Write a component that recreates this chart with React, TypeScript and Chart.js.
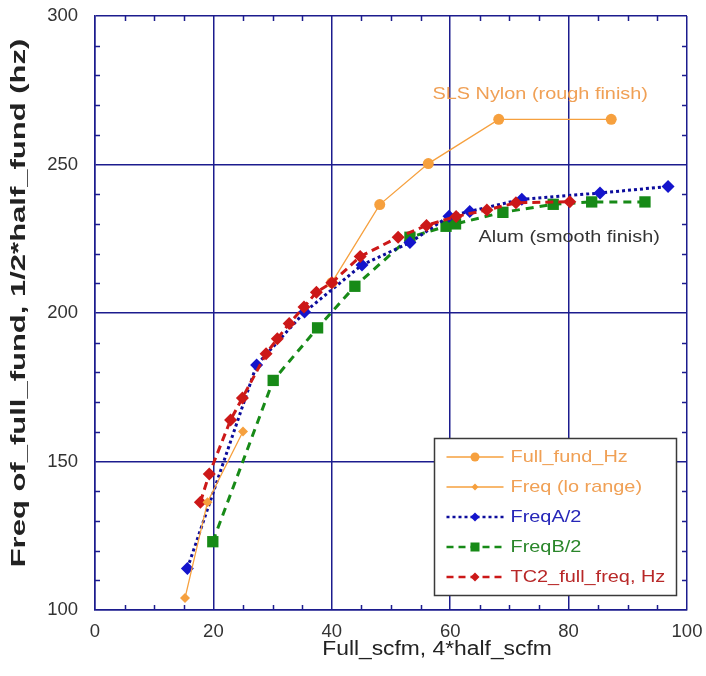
import React, { useEffect, useRef } from "react";
import { Chart, registerables } from "chart.js";

Chart.register(...registerables);

// ---------- data ----------
const fullFundX = [40.0, 48.1, 56.3, 68.2, 87.2];
const fullFundY = [210.2, 236.5, 250.3, 265.2, 265.2];

const loRangeX = [15.2, 19.0, 25.0];
const loRangeY = [104.0, 136.3, 160.1];

const freqAX = [15.6, 27.3, 35.4, 45.1, 53.2, 59.8, 63.3, 72.1, 85.3, 96.8];
const freqAY = [114.0, 182.5, 200.3, 216.2, 223.7, 232.6, 234.2, 238.3, 240.4, 242.6];

const freqBX = [19.9, 30.1, 37.6, 43.9, 53.2, 59.3, 60.9, 68.9, 77.4, 83.9, 92.9];
const freqBY = [123.0, 177.3, 195.0, 209.0, 225.5, 229.2, 230.0, 233.9, 236.6, 237.4, 237.4];

const tc2X = [17.8, 19.3, 22.9, 24.9, 28.9, 30.8, 32.8, 35.3, 37.4, 40.0, 44.8, 51.2, 56.0, 61.0, 66.2, 71.1, 80.2];
const tc2Y = [136.3, 145.8, 164.0, 171.4, 186.3, 191.3, 196.5, 202.0, 207.0, 210.2, 219.0, 225.5, 229.5, 232.5, 234.7, 237.1, 237.5];

const seriesNames = ["Full_fund_Hz", "Freq (lo range)", "FreqA/2", "FreqB/2", "TC2_full_freq, Hz"];

const xMin = 0, xMax = 100, xStep = 20, xMinor = 5;
const yMin = 100, yMax = 300, yStep = 50, yMinor = 10;

const xTitle = "Full_scfm, 4*half_scfm";
const yTitle = "Freq of_full_fund, 1/2*half_fund (hz)";

const noteNylon = { text: "SLS Nylon (rough finish)", x: 75.2, y: 273.7 };
const noteAlum = { text: "Alum (smooth finish)", x: 80.1, y: 225.4 };

// ---------- styles ----------
const FONT = "'Liberation Sans', Arial, Helvetica, sans-serif";
const NAVY = "#1c1c8e";
const ORANGE = "#f6a03e";
const ORANGE_TEXT = "#f0a055";
const BLUE_LINE = "#0c0c9c";
const BLUE_PT = "#1414cc";
const GREEN = "#178a17";
const RED = "#cc1818";
const TEXT = "#333333";
const STRETCH = 1.17;

const zip = (xs: number[], ys: number[]) => xs.map((x, i) => ({ x, y: ys[i] }));

function stretchedText(
  ctx: CanvasRenderingContext2D,
  text: string,
  x: number,
  y: number,
  align: "left" | "center",
  sx = STRETCH,
  rot = 0
) {
  ctx.save();
  ctx.translate(x, y);
  if (rot) ctx.rotate(rot);
  ctx.scale(sx, 1);
  ctx.textAlign = align;
  ctx.textBaseline = "middle";
  ctx.fillText(text, 0, 0);
  ctx.restore();
}

function drawMarker(ctx: CanvasRenderingContext2D, kind: string, x: number, y: number, r: number, color: string) {
  ctx.save();
  ctx.fillStyle = color;
  ctx.beginPath();
  if (kind === "circle") {
    ctx.arc(x, y, r, 0, Math.PI * 2);
  } else if (kind === "diamond") {
    ctx.moveTo(x, y - r);
    ctx.lineTo(x + r, y);
    ctx.lineTo(x, y + r);
    ctx.lineTo(x - r, y);
    ctx.closePath();
  } else {
    ctx.rect(x - r, y - r, 2 * r, 2 * r);
  }
  ctx.fill();
  ctx.restore();
}

const legendStyle = [
  { line: ORANGE, text: ORANGE_TEXT, dash: [] as number[], width: 1.3, marker: "circle", r: 4.5, mcol: ORANGE },
  { line: ORANGE, text: ORANGE_TEXT, dash: [] as number[], width: 1.3, marker: "diamond", r: 3.5, mcol: ORANGE },
  { line: BLUE_LINE, text: "#2626b8", dash: [3, 3], width: 2.5, marker: "diamond", r: 4.5, mcol: BLUE_PT },
  { line: GREEN, text: "#2a862a", dash: [7, 5], width: 2.5, marker: "square", r: 4.5, mcol: GREEN },
  { line: RED, text: "#b82828", dash: [7, 5], width: 2.5, marker: "diamond", r: 4.5, mcol: RED },
];

const decorPlugin = {
  id: "decor",
  beforeDatasetsDraw(chart: any) {
    const { ctx, chartArea: a, scales } = chart;
    const xs = scales.x, ys = scales.y;
    const len = 5;
    ctx.save();
    ctx.strokeStyle = NAVY;
    ctx.lineWidth = 1.5;
    ctx.beginPath();
    for (let v = xMin + xMinor; v < xMax; v += xMinor) {
      if (v % xStep === 0) continue;
      const px = Math.round(xs.getPixelForValue(v)) + 0.5;
      ctx.moveTo(px, a.bottom);
      ctx.lineTo(px, a.bottom - len);
      ctx.moveTo(px, a.top);
      ctx.lineTo(px, a.top + len);
    }
    for (let v = yMin + yMinor; v < yMax; v += yMinor) {
      if (v % yStep === 0) continue;
      const py = Math.round(ys.getPixelForValue(v)) + 0.5;
      ctx.moveTo(a.left, py);
      ctx.lineTo(a.left + len, py);
      ctx.moveTo(a.right, py);
      ctx.lineTo(a.right - len, py);
    }
    ctx.stroke();
    ctx.restore();
  },
  afterDraw(chart: any) {
    const { ctx, scales, chartArea: a } = chart;
    const xs = scales.x, ys = scales.y;
    ctx.save();

    // axis titles
    ctx.fillStyle = "#222222";
    ctx.font = `19.5px ${FONT}`;
    stretchedText(ctx, xTitle, 437, a.bottom + 40, "center", 1.17);
    ctx.font = `bold 20px ${FONT}`;
    stretchedText(ctx, yTitle, 19, 303, "center", 1.55, -Math.PI / 2);

    // annotations
    ctx.font = `17px ${FONT}`;
    ctx.fillStyle = ORANGE_TEXT;
    stretchedText(ctx, noteNylon.text, xs.getPixelForValue(noteNylon.x), ys.getPixelForValue(noteNylon.y), "center");
    ctx.fillStyle = TEXT;
    stretchedText(ctx, noteAlum.text, xs.getPixelForValue(noteAlum.x), ys.getPixelForValue(noteAlum.y), "center");

    // legend box
    const bx = 434.5, by = 438.5, bw = 242, bh = 157;
    ctx.fillStyle = "#ffffff";
    ctx.fillRect(bx, by, bw, bh);
    ctx.strokeStyle = "#3a3a3a";
    ctx.lineWidth = 1.5;
    ctx.strokeRect(bx, by, bw, bh);
    legendStyle.forEach((s, i) => {
      const yy = by + 18.5 + i * 30;
      ctx.save();
      ctx.strokeStyle = s.line;
      ctx.lineWidth = s.width;
      ctx.setLineDash(s.dash);
      ctx.beginPath();
      ctx.moveTo(bx + 12, yy);
      ctx.lineTo(bx + 69, yy);
      ctx.stroke();
      ctx.restore();
      drawMarker(ctx, s.marker, bx + 40.5, yy, s.r, s.mcol);
      ctx.fillStyle = s.text;
      ctx.font = `17px ${FONT}`;
      stretchedText(ctx, seriesNames[i], bx + 76, yy, "left");
    });
    ctx.restore();
  },
};

export default function App() {
  const ref = useRef<HTMLCanvasElement | null>(null);

  useEffect(() => {
    if (!ref.current) return;
    const chart = new Chart(ref.current, {
      type: "line",
      data: {
        datasets: [
          {
            label: seriesNames[1],
            data: zip(loRangeX, loRangeY),
            borderColor: ORANGE,
            backgroundColor: ORANGE,
            borderWidth: 1.3,
            pointStyle: "rectRot",
            pointRadius: 5,
            pointBorderWidth: 0,
            order: 0,
          },
          {
            label: seriesNames[4],
            data: zip(tc2X, tc2Y),
            borderColor: RED,
            backgroundColor: RED,
            borderWidth: 3,
            borderDash: [8, 5],
            pointStyle: "rectRot",
            pointRadius: 6.5,
            pointBorderWidth: 0,
            order: 1,
          },
          {
            label: seriesNames[0],
            data: zip(fullFundX, fullFundY),
            borderColor: ORANGE,
            backgroundColor: ORANGE,
            borderWidth: 1.3,
            pointStyle: "circle",
            pointRadius: 5.5,
            pointBorderWidth: 0,
            order: 2,
          },
          {
            label: seriesNames[2],
            data: zip(freqAX, freqAY),
            borderColor: BLUE_LINE,
            backgroundColor: BLUE_PT,
            borderWidth: 3,
            borderDash: [3, 3],
            pointStyle: "rectRot",
            pointRadius: 6.5,
            pointBorderWidth: 0,
            order: 3,
          },
          {
            label: seriesNames[3],
            data: zip(freqBX, freqBY),
            borderColor: GREEN,
            backgroundColor: GREEN,
            borderWidth: 3,
            borderDash: [8, 6],
            pointStyle: "rect",
            pointRadius: 8,
            pointBorderWidth: 0,
            order: 4,
          },
        ],
      },
      options: {
        animation: false,
        responsive: true,
        maintainAspectRatio: false,
        layout: { padding: { top: 16, right: 19, left: 0, bottom: 0 } },
        plugins: { legend: { display: false }, tooltip: { enabled: false } },
        elements: { line: { tension: 0, fill: false } },
        scales: {
          x: {
            type: "linear",
            min: xMin,
            max: xMax,
            afterFit: (s: any) => {
              s.height = 66;
              s.paddingLeft = 0;
              s.paddingRight = 0;
            },
            ticks: { stepSize: xStep, padding: 11, color: TEXT, font: { family: FONT, size: 18.5 } },
            grid: { color: NAVY, lineWidth: 1.5, drawTicks: false },
            border: { display: true, color: NAVY, width: 1.5 },
            title: { display: false },
          },
          y: {
            type: "linear",
            min: yMin,
            max: yMax,
            afterFit: (s: any) => {
              s.width = 95;
              s.paddingTop = 0;
              s.paddingBottom = 0;
            },
            ticks: { stepSize: yStep, padding: 17, color: TEXT, font: { family: FONT, size: 18.5 } },
            grid: { color: NAVY, lineWidth: 1.5, drawTicks: false },
            border: { display: true, color: NAVY, width: 1.5 },
            title: { display: false },
          },
        },
      },
      plugins: [decorPlugin],
    } as any);
    return () => chart.destroy();
  }, []);

  return (
    <div style={{ position: "absolute", left: 0, top: 0, width: 706, height: 676, background: "#fff" }}>
      <canvas ref={ref} />
    </div>
  );
}
